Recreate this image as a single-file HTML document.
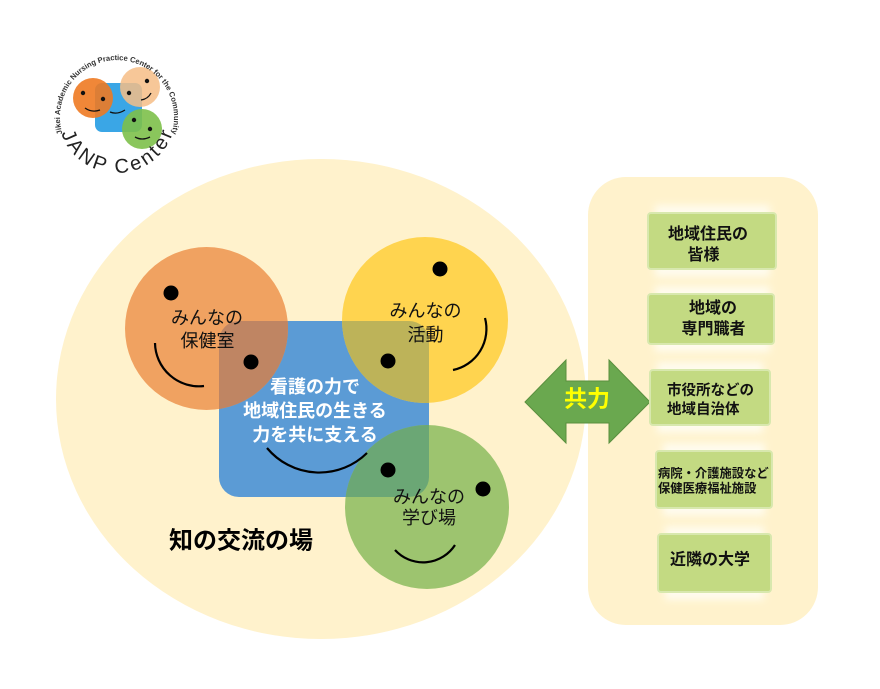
<!DOCTYPE html>
<html><head><meta charset="utf-8">
<style>
html,body{margin:0;padding:0;background:#fff;}
svg{display:block;}
text{font-family:"Liberation Sans","Noto Sans CJK JP",sans-serif;}
</style></head>
<body>
<svg width="880" height="689" viewBox="0 0 880 689" xmlns="http://www.w3.org/2000/svg">
<defs>
  <clipPath id="cBlue"><rect x="219" y="321" width="210" height="176" rx="20" ry="20"/></clipPath>
  <filter id="glow" x="-20%" y="-40%" width="140%" height="180%"><feGaussianBlur stdDeviation="4"/></filter>
  <path id="topArc" d="M63.4,136.5 A57,57 0 1 1 170.6,136.5"/>
  <path id="botArc" d="M58,114 A59,59 0 0 0 176,114"/>
</defs>
<rect width="880" height="689" fill="#fff"/>

<!-- Logo -->
<g>
  <rect x="95" y="83" width="47" height="49" rx="7" fill="#3AA6E6"/>
  <circle cx="93" cy="98" r="20" fill="#EE7A22" opacity="0.9"/>
  <circle cx="140" cy="87" r="20" fill="#F6BD86" opacity="0.85"/>
  <circle cx="142" cy="129" r="20" fill="#7DC04A" opacity="0.9"/>
  <g fill="#111">
    <circle cx="83" cy="93" r="2.2"/><circle cx="103" cy="99" r="2.2"/>
    <circle cx="147" cy="81" r="2.2"/><circle cx="129" cy="93" r="2.2"/>
    <circle cx="134" cy="120" r="2.2"/><circle cx="150" cy="129" r="2.2"/>
  </g>
  <g fill="none" stroke="#111" stroke-width="1.3">
    <path d="M85,108 Q92,113 100,110"/>
    <path d="M110,112 Q117,115 125,110"/>
    <path d="M141,100 Q148,99 151,93"/>
    <path d="M135,137 Q142,141 150,137"/>
  </g>
  <text font-size="7.6" font-weight="bold" fill="#333"><textPath href="#topArc" startOffset="50%" text-anchor="middle" textLength="212" lengthAdjust="spacing">Jikei Academic Nursing Practice Center for the Community</textPath></text>
  <text font-size="20" fill="#222"><textPath href="#botArc" startOffset="50%" text-anchor="middle" textLength="146" lengthAdjust="spacing">JANP Center</textPath></text>
</g>

<!-- Big ellipse -->
<ellipse cx="321" cy="399" rx="265" ry="240" fill="#FFF2CC"/>

<!-- Right panel -->
<rect x="588" y="177" width="230" height="448" rx="38" ry="38" fill="#FFF2CC"/>

<!-- Blue rect -->
<rect x="219" y="321" width="210" height="176" rx="20" ry="20" fill="#5B9BD5"/>

<!-- Circles -->
<circle cx="206.5" cy="328.5" r="81.5" fill="#F0A261"/>
<circle cx="425" cy="320" r="83" fill="#FFD44F"/>
<circle cx="427" cy="507" r="82" fill="#9DC46F"/>

<!-- Overlaps -->
<g clip-path="url(#cBlue)">
  <circle cx="206.5" cy="328.5" r="81.5" fill="#BF8563"/>
  <circle cx="425" cy="320" r="83" fill="#BDB359"/>
  <circle cx="427" cy="507" r="82" fill="#6BA775"/>
</g>

<!-- Eyes -->
<g fill="#000">
  <circle cx="171" cy="293" r="7.5"/>
  <circle cx="251" cy="362" r="7.5"/>
  <circle cx="440" cy="269" r="7.5"/>
  <circle cx="388" cy="361" r="7.5"/>
  <circle cx="388" cy="470" r="7.5"/>
  <circle cx="483" cy="489" r="7.5"/>
</g>

<!-- Smiles -->
<g fill="none" stroke="#000" stroke-width="2.2">
  <path d="M155,343 A44,44 0 0 0 204,386"/>
  <path d="M485,318 A42,42 0 0 1 453,370"/>
  <path d="M267,448 A68,68 0 0 0 367,453"/>
  <path d="M395,550 A38,38 0 0 0 455,545"/>
</g>

<!-- Circle labels -->
<g font-size="18" fill="#111" text-anchor="middle">
  <text x="207" y="324">みんなの</text>
  <text x="207.5" y="347">保健室</text>
  <text x="425.5" y="317">みんなの</text>
  <text x="425.5" y="341">活動</text>
  <text x="429" y="503">みんなの</text>
  <text x="429" y="524">学び場</text>
</g>

<!-- Blue text -->
<g font-size="18" font-weight="bold" fill="#fff" text-anchor="middle">
  <text x="315" y="393">看護の力で</text>
  <text x="315" y="417">地域住民の生きる</text>
  <text x="315" y="441">力を共に支える</text>
</g>

<text x="241" y="548.5" font-size="24" font-weight="bold" fill="#000" text-anchor="middle">知の交流の場</text>

<!-- Arrow -->
<polygon points="525,402 566,360 566,381 609,381 609,360 650,402 609,443 609,423 566,423 566,443" fill="#6AA84F" stroke="#5A8F3E" stroke-width="1"/>
<text x="587" y="406.5" font-size="23" font-weight="bold" fill="#FFFF00" text-anchor="middle">共力</text>

<!-- Boxes glow -->
<g fill="#FFFDF2" filter="url(#glow)" opacity="0.9">
  <rect x="655" y="205" width="115" height="72"/>
  <rect x="655" y="286" width="115" height="66"/>
  <rect x="657" y="362" width="106" height="71"/>
  <rect x="663" y="443" width="102" height="73"/>
  <rect x="665" y="526" width="99" height="74"/>
</g>
<!-- Boxes -->
<g fill="#C3DA82" stroke="#D8E8AE" stroke-width="2">
  <rect x="648" y="213" width="128" height="56" rx="3"/>
  <rect x="648" y="294" width="126" height="50" rx="3"/>
  <rect x="650" y="370" width="120" height="55" rx="3"/>
  <rect x="656" y="451" width="116" height="57" rx="3"/>
  <rect x="658" y="534" width="113" height="58" rx="3"/>
</g>
<g font-weight="bold" fill="#111">
  <text x="708" y="239" font-size="16" text-anchor="middle">地域住民の</text>
  <text x="703.5" y="260" font-size="16" text-anchor="middle">皆様</text>
  <text x="713" y="313" font-size="16" text-anchor="middle">地域の</text>
  <text x="713.5" y="334" font-size="16" text-anchor="middle">専門職者</text>
  <text x="667" y="395" font-size="14.5">市役所などの</text>
  <text x="667" y="414" font-size="14.5">地域自治体</text>
  <text x="658" y="477.5" font-size="12.3">病院・介護施設など</text>
  <text x="658" y="492.5" font-size="12.3">保健医療福祉施設</text>
  <text x="710" y="564.5" font-size="16" text-anchor="middle">近隣の大学</text>
</g>
</svg>
</body></html>
